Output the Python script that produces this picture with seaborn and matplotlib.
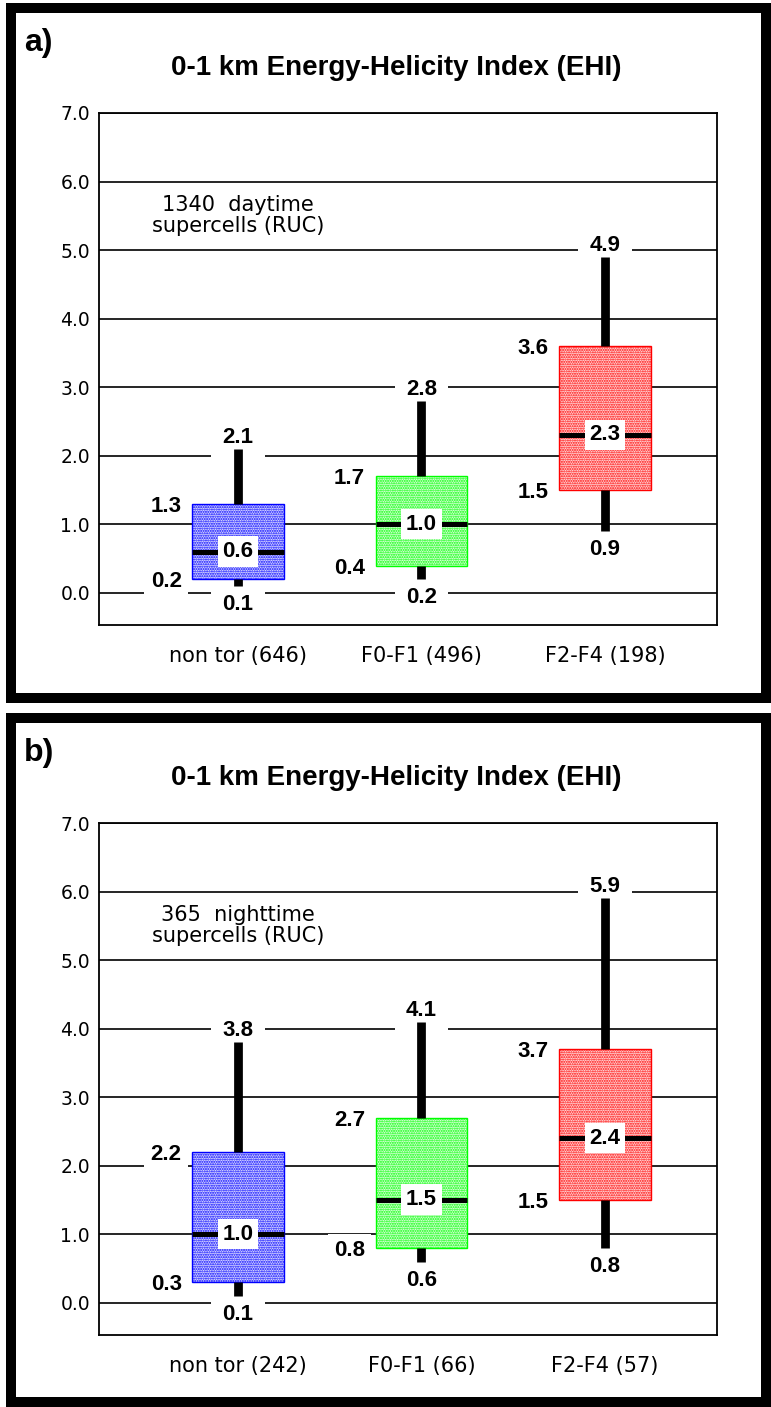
import numpy as np
import pandas as pd
import matplotlib
matplotlib.use("Agg")
import matplotlib.pyplot as plt
import seaborn as sns
from matplotlib.patches import Rectangle

# ---------------- data ----------------
title = "0-1 km Energy-Helicity Index (EHI)"
panel_labels = ["a)", "b)"]
notes = ["1340  daytime\nsupercells (RUC)", "365  nighttime\nsupercells (RUC)"]

categories_a = ["non tor (646)", "F0-F1 (496)", "F2-F4 (198)"]
whisk_lo_a = [0.1, 0.2, 0.9]
q1_a = [0.2, 0.4, 1.5]
median_a = [0.6, 1.0, 2.3]
q3_a = [1.3, 1.7, 3.6]
whisk_hi_a = [2.1, 2.8, 4.9]

categories_b = ["non tor (242)", "F0-F1 (66)", "F2-F4 (57)"]
whisk_lo_b = [0.1, 0.6, 0.8]
q1_b = [0.3, 0.8, 1.5]
median_b = [1.0, 1.5, 2.4]
q3_b = [2.2, 2.7, 3.7]
whisk_hi_b = [3.8, 4.1, 5.9]

box_colors = ["#0000ff", "#00ff00", "#ff0000"]
box_tints = ["#d8d8ff", "#d8ffd8", "#ffd8d8"]
yticks = [0.0, 1.0, 2.0, 3.0, 4.0, 5.0, 6.0, 7.0]

# ---------------- style ----------------
sns.set_style("white")
plt.rcParams["font.family"] = ["DejaVu Sans"]
plt.rcParams["text.color"] = "black"
plt.rcParams["hatch.linewidth"] = 1.0

W, H = 771, 1407
fig = plt.figure(figsize=(W / 100, H / 100), dpi=100)

BOLD = dict(family=["Liberation Sans", "DejaVu Sans"], weight="bold", color="black")
VAL_FS = 16
CAP = 0.716 * VAL_FS / 2  # half digit height in points


def draw_panel(ax, cats, lo, q1, med, q3, hi, note):
    df = pd.DataFrame({
        "cat": np.repeat(cats, 5),
        "val": np.column_stack([lo, q1, med, q3, hi]).ravel(),
    })
    sns.boxplot(data=df, x="cat", y="val", hue="cat", order=cats, hue_order=cats,
                palette=box_colors, legend=False, width=0.5, whis=(0, 100),
                showcaps=False, showfliers=False, dodge=False, linewidth=1,
                linecolor="k", ax=ax,
                whiskerprops=dict(color="k", linewidth=6.3, solid_capstyle="butt"),
                medianprops=dict(color="k", linewidth=3.6, solid_capstyle="butt"))
    for p in ax.patches:
        ext = p.get_path().get_extents()
        idx = int(round((ext.x0 + ext.x1) / 2))
        p.set_facecolor(box_tints[idx])
        p.set_edgecolor(box_colors[idx])
        p.set_hatch(".......")
        p.set_linewidth(1.0)
        p.set_zorder(3)
    for ln in ax.lines:
        ln.set_zorder(4)

    ax.set_xlim(-0.757, 2.61)
    ax.set_ylim(-0.467, 7.0)
    ax.set_yticks(yticks)
    ax.set_yticklabels([f"{v:.1f}" for v in yticks], fontsize=13.5)
    ax.tick_params(axis="y", length=0, pad=6.5, colors="black")
    ax.tick_params(axis="x", length=0, pad=15, labelsize=15, colors="black")
    ax.set_xlabel("")
    ax.set_ylabel("")
    ax.set_axisbelow(True)
    ax.yaxis.grid(True, color="black", linewidth=1.2)
    ax.xaxis.grid(False)
    for s in ax.spines.values():
        s.set_color("black")
        s.set_linewidth(1.3)

    half_w = 0.25
    for i in range(len(cats)):
        # upper whisker value
        ax.annotate(f"{hi[i]:.1f}", xy=(i, hi[i]), xytext=(0, 10 - CAP),
                    textcoords="offset points", ha="center", va="baseline",
                    fontsize=VAL_FS, zorder=2, **BOLD,
                    bbox=dict(boxstyle="square,pad=0.5", fc="white", ec="none"))
        # lower whisker value
        ax.annotate(f"{lo[i]:.1f}", xy=(i, lo[i]), xytext=(0, -11.5 - CAP),
                    textcoords="offset points", ha="center", va="baseline",
                    fontsize=VAL_FS, zorder=2, **BOLD,
                    bbox=dict(boxstyle="square,pad=0.5", fc="white", ec="none"))
        # quartile values
        for qv in (q3[i], q1[i]):
            ax.annotate(f"{qv:.1f}", xy=(i - half_w, qv), xytext=(-7.5, -CAP),
                        textcoords="offset points", ha="right", va="baseline",
                        fontsize=VAL_FS, zorder=2, **BOLD,
                        bbox=dict(boxstyle="square,pad=0.28", fc="white", ec="none"))
        # median value
        ax.annotate(f"{med[i]:.1f}", xy=(i, med[i]), xytext=(0, 2 - CAP),
                    textcoords="offset points", ha="center", va="baseline",
                    fontsize=VAL_FS, zorder=6, **BOLD,
                    bbox=dict(boxstyle="square,pad=0.22", fc="white", ec="none"))

    ax.text(0, 5.5, note, ha="center", va="center", fontsize=15,
            linespacing=1.05, zorder=2, color="black")


panels = [
    (categories_a, whisk_lo_a, q1_a, median_a, q3_a, whisk_hi_a),
    (categories_b, whisk_lo_b, q1_b, median_b, q3_b, whisk_hi_b),
]

for k, (cats, lo, q1, med, q3, hi) in enumerate(panels):
    off = 710 * k
    top, bottom = 113 + off, 625 + off
    left, right = 99, 717
    ax = fig.add_axes([left / W, 1 - bottom / H, (right - left) / W, (bottom - top) / H])
    draw_panel(ax, cats, lo, q1, med, q3, hi, notes[k])

    fig.text(396 / W, 1 - (68 + off) / H, title, ha="center", va="center",
             fontsize=20, **BOLD)
    fig.text(24 / W, 1 - (51 + off) / H, panel_labels[k], ha="left", va="baseline",
             fontsize=23, **BOLD)

    # thick panel frame
    fy_top = 7.5 + off
    fy_bot = 697.5 + off if k == 0 else 1402
    fig.add_artist(Rectangle((10.5 / W, 1 - fy_bot / H), (766 - 10.5) / W,
                             (fy_bot - fy_top) / H, transform=fig.transFigure,
                             fill=False, edgecolor="black", linewidth=7.2))

fig.savefig("out.png", dpi=100)
